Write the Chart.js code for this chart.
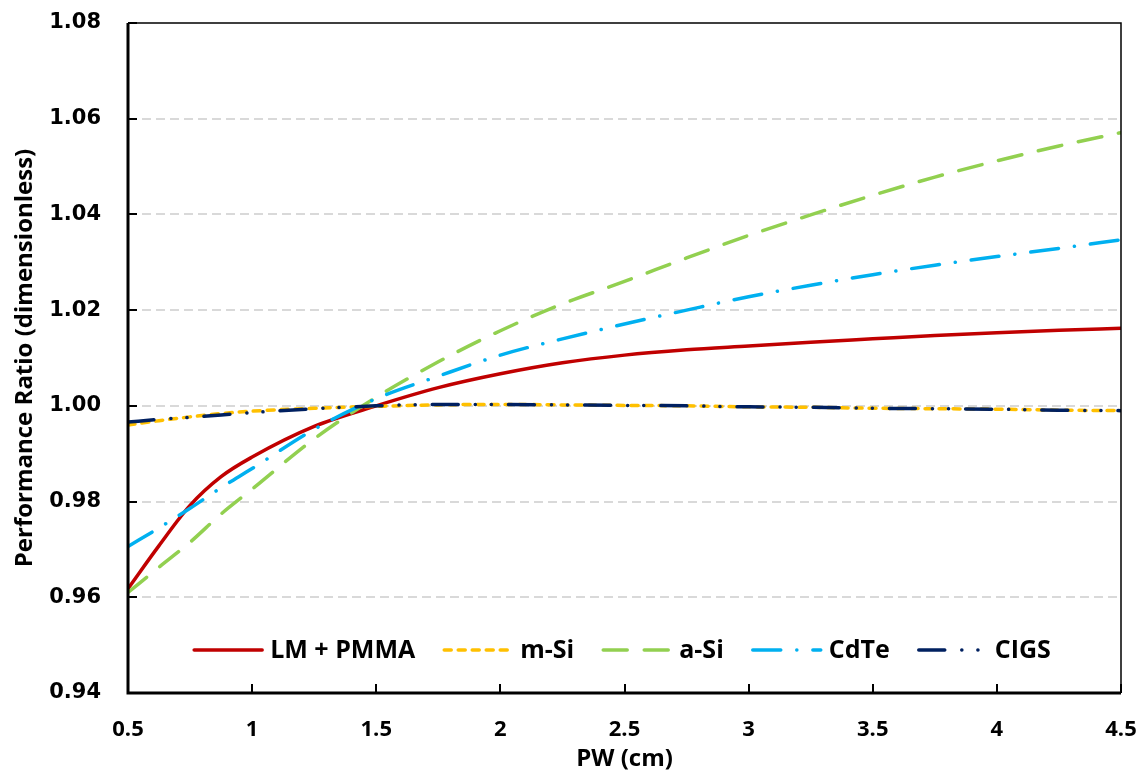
<!DOCTYPE html>
<html>
<head>
<meta charset="utf-8">
<script src="https://cdn.jsdelivr.net/npm/chart.js@4.4.1/dist/chart.umd.min.js"></script>
<style>
  html, body { margin: 0; padding: 0; background: #fff; }
</style>
</head>
<body>
<canvas id="chart" width="1143" height="778"></canvas>
<script>
// PW (cm)
const pw = [0.5, 0.625, 0.75, 0.875, 1, 1.25, 1.5, 1.75, 2, 2.25, 2.5, 2.75, 3, 3.25, 3.5, 3.75, 4, 4.25, 4.5]

// performance ratio
const lmPmma = [0.9618, 0.9708, 0.9792, 0.9852, 0.9893, 0.9957, 1.0000, 1.0038, 1.0067, 1.0090, 1.0106, 1.0117, 1.0125, 1.0133, 1.0140, 1.0147, 1.0153, 1.0158, 1.0162]
const mSi = [0.9960, 0.9969, 0.9977, 0.9984, 0.9989, 0.9995, 0.9999, 1.0002, 1.0003, 1.0002, 1.0001, 1.0000, 0.9998, 0.9997, 0.9995, 0.9994, 0.9993, 0.9991, 0.9990]
const aSi = [0.9610, 0.9663, 0.9715, 0.9774, 0.9826, 0.9931, 1.0018, 1.0092, 1.0157, 1.0213, 1.0260, 1.0309, 1.0356, 1.0399, 1.0440, 1.0478, 1.0512, 1.0543, 1.0571]
const cdTe = [0.9706, 0.9745, 0.9786, 0.9829, 0.9869, 0.9951, 1.0015, 1.0062, 1.0106, 1.0140, 1.0171, 1.0200, 1.0228, 1.0252, 1.0274, 1.0294, 1.0312, 1.0329, 1.0347]
const cigs = [0.9966, 0.9972, 0.9976, 0.9981, 0.9986, 0.9994, 1.0000, 1.0003, 1.0003, 1.0002, 1.0001, 1.0000, 0.9998, 0.9997, 0.9995, 0.9994, 0.9993, 0.9991, 0.9990]

const seriesNames = ['LM + PMMA', 'm-Si', 'a-Si', 'CdTe', 'CIGS']

const toPoints = (arr) => arr.map((v, i) => ({ x: pw[i], y: v }))

const titleFont = { family: "'Open Sans', sans-serif", size: 24, weight: 'bold' }
const legendFont = "bold 25px 'Open Sans', sans-serif"

// box round the plot + ticks pointing inwards
const frame = {
  id: 'frame',
  afterDatasetsDraw(chart) {
    const { ctx, chartArea: a, scales } = chart
    ctx.save()
    ctx.strokeStyle = '#000'
    ctx.lineCap = 'butt'
    ctx.setLineDash([])
    ctx.lineWidth = 1.5
    ctx.beginPath()
    ctx.moveTo(a.left, a.top)
    ctx.lineTo(a.right, a.top)
    ctx.lineTo(a.right, a.bottom)
    ctx.stroke()
    ctx.lineWidth = 3
    ctx.beginPath()
    ctx.moveTo(a.left, a.top)
    ctx.lineTo(a.left, a.bottom)
    ctx.lineTo(a.right, a.bottom)
    ctx.stroke()
    ctx.lineWidth = 2
    ctx.beginPath()
    scales.y.ticks.forEach((t) => {
      const y = Math.round(scales.y.getPixelForValue(t.value))
      ctx.moveTo(a.left, y)
      ctx.lineTo(a.left + 9, y)
    })
    scales.x.ticks.forEach((t) => {
      const x = Math.round(scales.x.getPixelForValue(t.value))
      ctx.moveTo(x, a.bottom)
      ctx.lineTo(x, a.bottom - 9)
    })
    ctx.stroke()
    ctx.restore()
  },
}

// legend inside the plot, with real line samples
const lineLegend = {
  id: 'lineLegend',
  afterDraw(chart) {
    const { ctx, chartArea: a } = chart
    const sets = chart.data.datasets
    const sample = 72
    const gap = 6
    const space = 27
    ctx.save()
    ctx.font = legendFont
    const widths = sets.map((ds) => sample + gap + ctx.measureText(ds.label).width)
    const total = widths.reduce((s, w) => s + w, 0) + space * (sets.length - 1)
    let x = (a.left + a.right) / 2 - total / 2 - 3
    const y = a.bottom - 43
    sets.forEach((ds, i) => {
      ctx.strokeStyle = ds.borderColor
      ctx.lineWidth = ds.borderWidth
      ctx.lineCap = ds.borderCapStyle
      ctx.setLineDash(ds.borderDash || [])
      ctx.beginPath()
      ctx.moveTo(x + 2, y)
      ctx.lineTo(x + sample - 2, y)
      ctx.stroke()
      ctx.setLineDash([])
      ctx.fillStyle = '#000'
      ctx.textBaseline = 'middle'
      ctx.textAlign = 'left'
      ctx.fillText(ds.label, x + sample + gap, y + 1)
      x += widths[i] + space
    })
    ctx.restore()
  },
}

const ctx = document.getElementById('chart').getContext('2d')
const chart = new Chart(ctx, {
  type: 'line',
  data: {
    datasets: [
      {
        label: seriesNames[0],
        data: toPoints(lmPmma),
        borderColor: '#C00000',
        borderWidth: 3.5,
        borderCapStyle: 'round',
        borderDash: [],
        order: 5,
      },
      {
        label: seriesNames[1],
        data: toPoints(mSi),
        borderColor: '#FFC000',
        borderWidth: 3.5,
        borderCapStyle: 'round',
        borderDash: [7, 7],
        order: 4,
      },
      {
        label: seriesNames[2],
        data: toPoints(aSi),
        borderColor: '#92D050',
        borderWidth: 3.5,
        borderCapStyle: 'round',
        borderDash: [24, 17],
        order: 3,
      },
      {
        label: seriesNames[3],
        data: toPoints(cdTe),
        borderColor: '#00B0F0',
        borderWidth: 3.5,
        borderCapStyle: 'round',
        borderDash: [28, 16, 0.1, 16],
        order: 2,
      },
      {
        label: seriesNames[4],
        data: toPoints(cigs),
        borderColor: '#002060',
        borderWidth: 3.5,
        borderCapStyle: 'round',
        borderDash: [26, 17, 0.1, 16, 0.1, 17],
        order: 1,
      },
    ],
  },
  options: {
    responsive: false,
    animation: false,
    layout: { padding: { top: 23, right: 22, left: 0, bottom: 0 } },
    elements: {
      point: { radius: 0 },
      line: { cubicInterpolationMode: 'monotone', fill: false },
    },
    plugins: {
      legend: { display: false },
      tooltip: { enabled: false },
    },
    scales: {
      x: {
        type: 'linear',
        min: 0.5,
        max: 4.5,
        afterFit: (scale) => {
          scale.height = 85
          scale.paddingLeft = 0
          scale.paddingRight = 0
        },
        ticks: {
          stepSize: 0.5,
          padding: 24,
          color: '#000',
          font: { family: "'Open Sans', sans-serif", size: 22, weight: 'bold' },
          callback: (v) => String(v),
        },
        grid: { display: false, drawTicks: false },
        border: { display: false },
        title: {
          display: true,
          text: 'PW (cm)',
          color: '#000',
          font: titleFont,
          padding: { top: 0, bottom: 4 },
        },
      },
      y: {
        type: 'linear',
        min: 0.94,
        max: 1.08,
        afterFit: (scale) => {
          scale.width = 128
          scale.paddingTop = 0
          scale.paddingBottom = 0
        },
        ticks: {
          stepSize: 0.02,
          padding: 27,
          color: '#000',
          font: { family: "'DejaVu Sans', sans-serif", size: 21, weight: 'bold' },
          callback: (v) => v.toFixed(2),
        },
        grid: {
          drawTicks: false,
          lineWidth: 2,
          color: (c) => {
            if (!c.tick) return 'rgba(0,0,0,0)'
            const v = c.tick.value
            return v < 0.9401 || v > 1.0799 ? 'rgba(0,0,0,0)' : '#D9D9D9'
          },
        },
        border: { display: false, dash: [9, 5] },
        title: {
          display: true,
          text: 'Performance Ratio (dimensionless)',
          color: '#000',
          font: titleFont,
          padding: { top: 11, bottom: 0 },
        },
      },
    },
  },
  plugins: [frame, lineLegend],
})
</script>
</body>
</html>
